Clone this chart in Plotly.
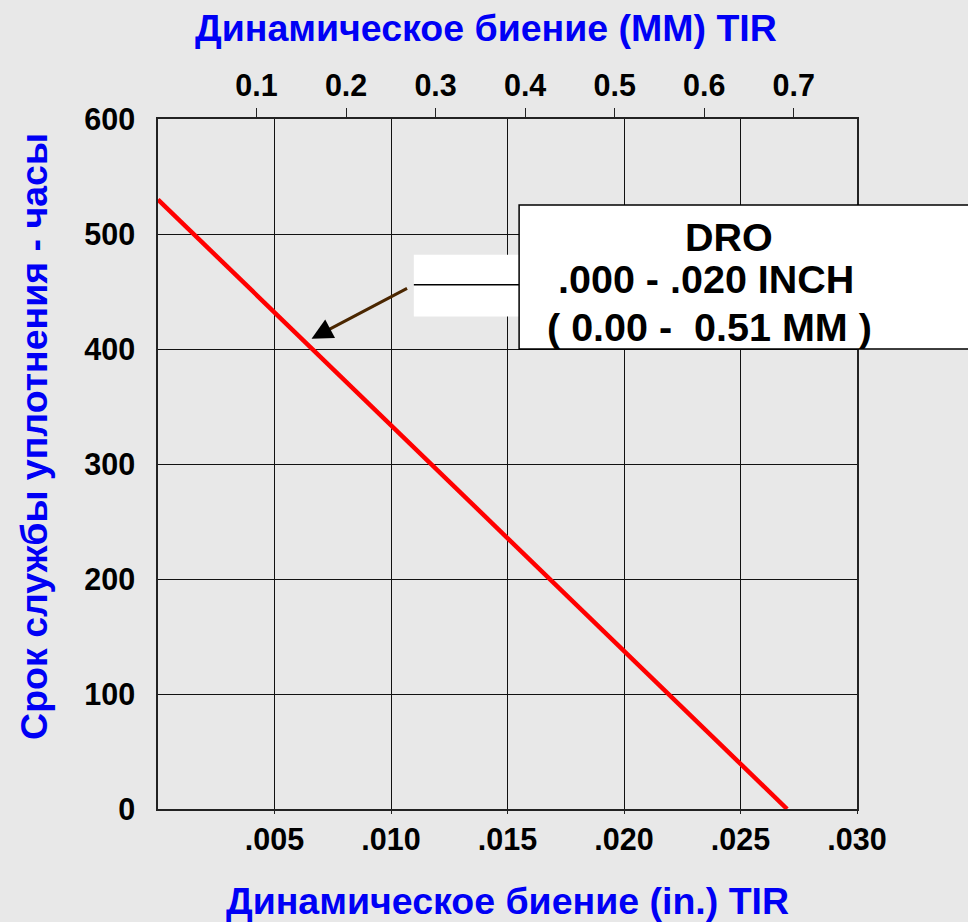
import plotly.graph_objects as go

# Seal life versus dynamic runout (straight-line relationship)
runout_in = [0.0, 0.027]
seal_life_hours = [530, 0]
runout_mm = [v * 25.4 for v in runout_in]

# Bottom axis (inches)
x_tickvals = [0.005, 0.010, 0.015, 0.020, 0.025, 0.030]
x_ticktext = [".005", ".010", ".015", ".020", ".025", ".030"]

# Left axis (hours)
y_tickvals = [0, 100, 200, 300, 400, 500, 600]
y_ticktext = ["0", "100", "200", "300", "400", "500", "600"]

# Top axis (millimetres)
mm_tickvals = [0.1, 0.2, 0.3, 0.4, 0.5, 0.6, 0.7]
mm_ticktext = ["0.1", "0.2", "0.3", "0.4", "0.5", "0.6", "0.7"]

box_lines = ["DRO", ".000 - .020 INCH", "( 0.00 -  0.51 MM )"]

FONT = "Liberation Sans, Arial, sans-serif"
BG = "#e8e8e8"
BLUE = "#0000f5"

fig = go.Figure()
fig.add_trace(go.Scatter(
    x=runout_in, y=seal_life_hours, mode="lines",
    line=dict(color="#ff0000", width=4.5),
    showlegend=False, hoverinfo="skip",
))
# Hidden companion trace so the millimetre axis gets drawn
fig.add_trace(go.Scatter(
    x=runout_mm, y=seal_life_hours, xaxis="x2", mode="lines",
    line=dict(color="rgba(0,0,0,0)", width=0),
    showlegend=False, hoverinfo="skip",
))

tick_font = dict(family=FONT, size=30.5, color="black", weight="bold")
title_font = dict(family=FONT, size=37.5, color=BLUE, weight="bold")

fig.update_layout(
    width=968, height=922,
    margin=dict(l=158, r=111, t=119, b=113),
    paper_bgcolor=BG, plot_bgcolor=BG,
    showlegend=False,
    xaxis=dict(
        range=[0, 0.030], tickvals=x_tickvals, ticktext=x_ticktext,
        tickfont=tick_font, ticks="outside", ticklen=3, tickcolor="#222",
        showgrid=True, gridcolor="#111", gridwidth=1,
        showline=True, linecolor="#222", linewidth=1.5, mirror=True,
        zeroline=False, ticklabelstandoff=0, automargin=False,
        title=dict(text="Динамическое биение (in.) TIR", standoff=40,
                   font=title_font),
    ),
    xaxis2=dict(
        overlaying="x", side="top", anchor="y",
        range=[-0.0101, 0.7707], tickvals=mm_tickvals, ticktext=mm_ticktext,
        tickfont=tick_font, ticks="outside", ticklen=10, tickcolor="#222",
        showgrid=False, showline=False, zeroline=False, ticklabelstandoff=0,
        automargin=False,
    ),
    yaxis=dict(
        range=[0, 600], tickvals=y_tickvals, ticktext=y_ticktext,
        tickfont=tick_font, ticks="",
        showgrid=True, gridcolor="#111", gridwidth=1,
        showline=True, linecolor="#222", linewidth=1.5, mirror=True,
        zeroline=False, ticklabelstandoff=15, automargin=False,
    ),
)

# Top and side titles
fig.add_annotation(xref="paper", yref="paper", x=0.469, y=1.1323,
                   text="Динамическое биение (MM) TIR", showarrow=False,
                   font=title_font, xanchor="center", yanchor="middle")
fig.add_annotation(xref="paper", yref="paper", x=-0.1785, y=0.5396,
                   text="Срок службы уплотнения - часы", showarrow=False,
                   textangle=-90, font=title_font,
                   xanchor="center", yanchor="middle")

# Callout: leader bar and text box
fig.add_shape(type="rect", xref="paper", yref="paper",
              x0=0.366, x1=0.5166, y0=0.7139, y1=0.8033,
              fillcolor="white", line=dict(width=0), layer="above")
fig.add_shape(type="line", xref="paper", yref="paper",
              x0=0.366, x1=0.5166, y0=0.7599, y1=0.7599,
              line=dict(color="black", width=1.5), layer="above")
fig.add_shape(type="rect", xref="paper", yref="paper",
              x0=0.5166, x1=1.25, y0=0.6667, y1=0.8754,
              fillcolor="white", line=dict(color="black", width=1.5), layer="above")

box_font = dict(family=FONT, size=39.5, color="black", weight="bold")
box_pos = [(0.817, 0.829), (0.784, 0.768), (0.789, 0.699)]
for text, (bx, by) in zip(box_lines, box_pos):
    fig.add_annotation(xref="paper", yref="paper", x=bx, y=by, text=text,
                       showarrow=False, font=box_font,
                       xanchor="center", yanchor="middle")

# Arrow pointing at the line
fig.add_annotation(x=0.00659, y=409, xref="x", yref="y", text="",
                   showarrow=True, arrowhead=0, arrowwidth=3,
                   arrowcolor="#4a2600", ax=97, ay=-51, standoff=6)
fig.add_annotation(x=0.00659, y=409, xref="x", yref="y", text="",
                   showarrow=True, arrowhead=2, arrowsize=1.4, arrowwidth=3,
                   arrowcolor="black", ax=14, ay=-7.4)

fig.write_html("out.html")
